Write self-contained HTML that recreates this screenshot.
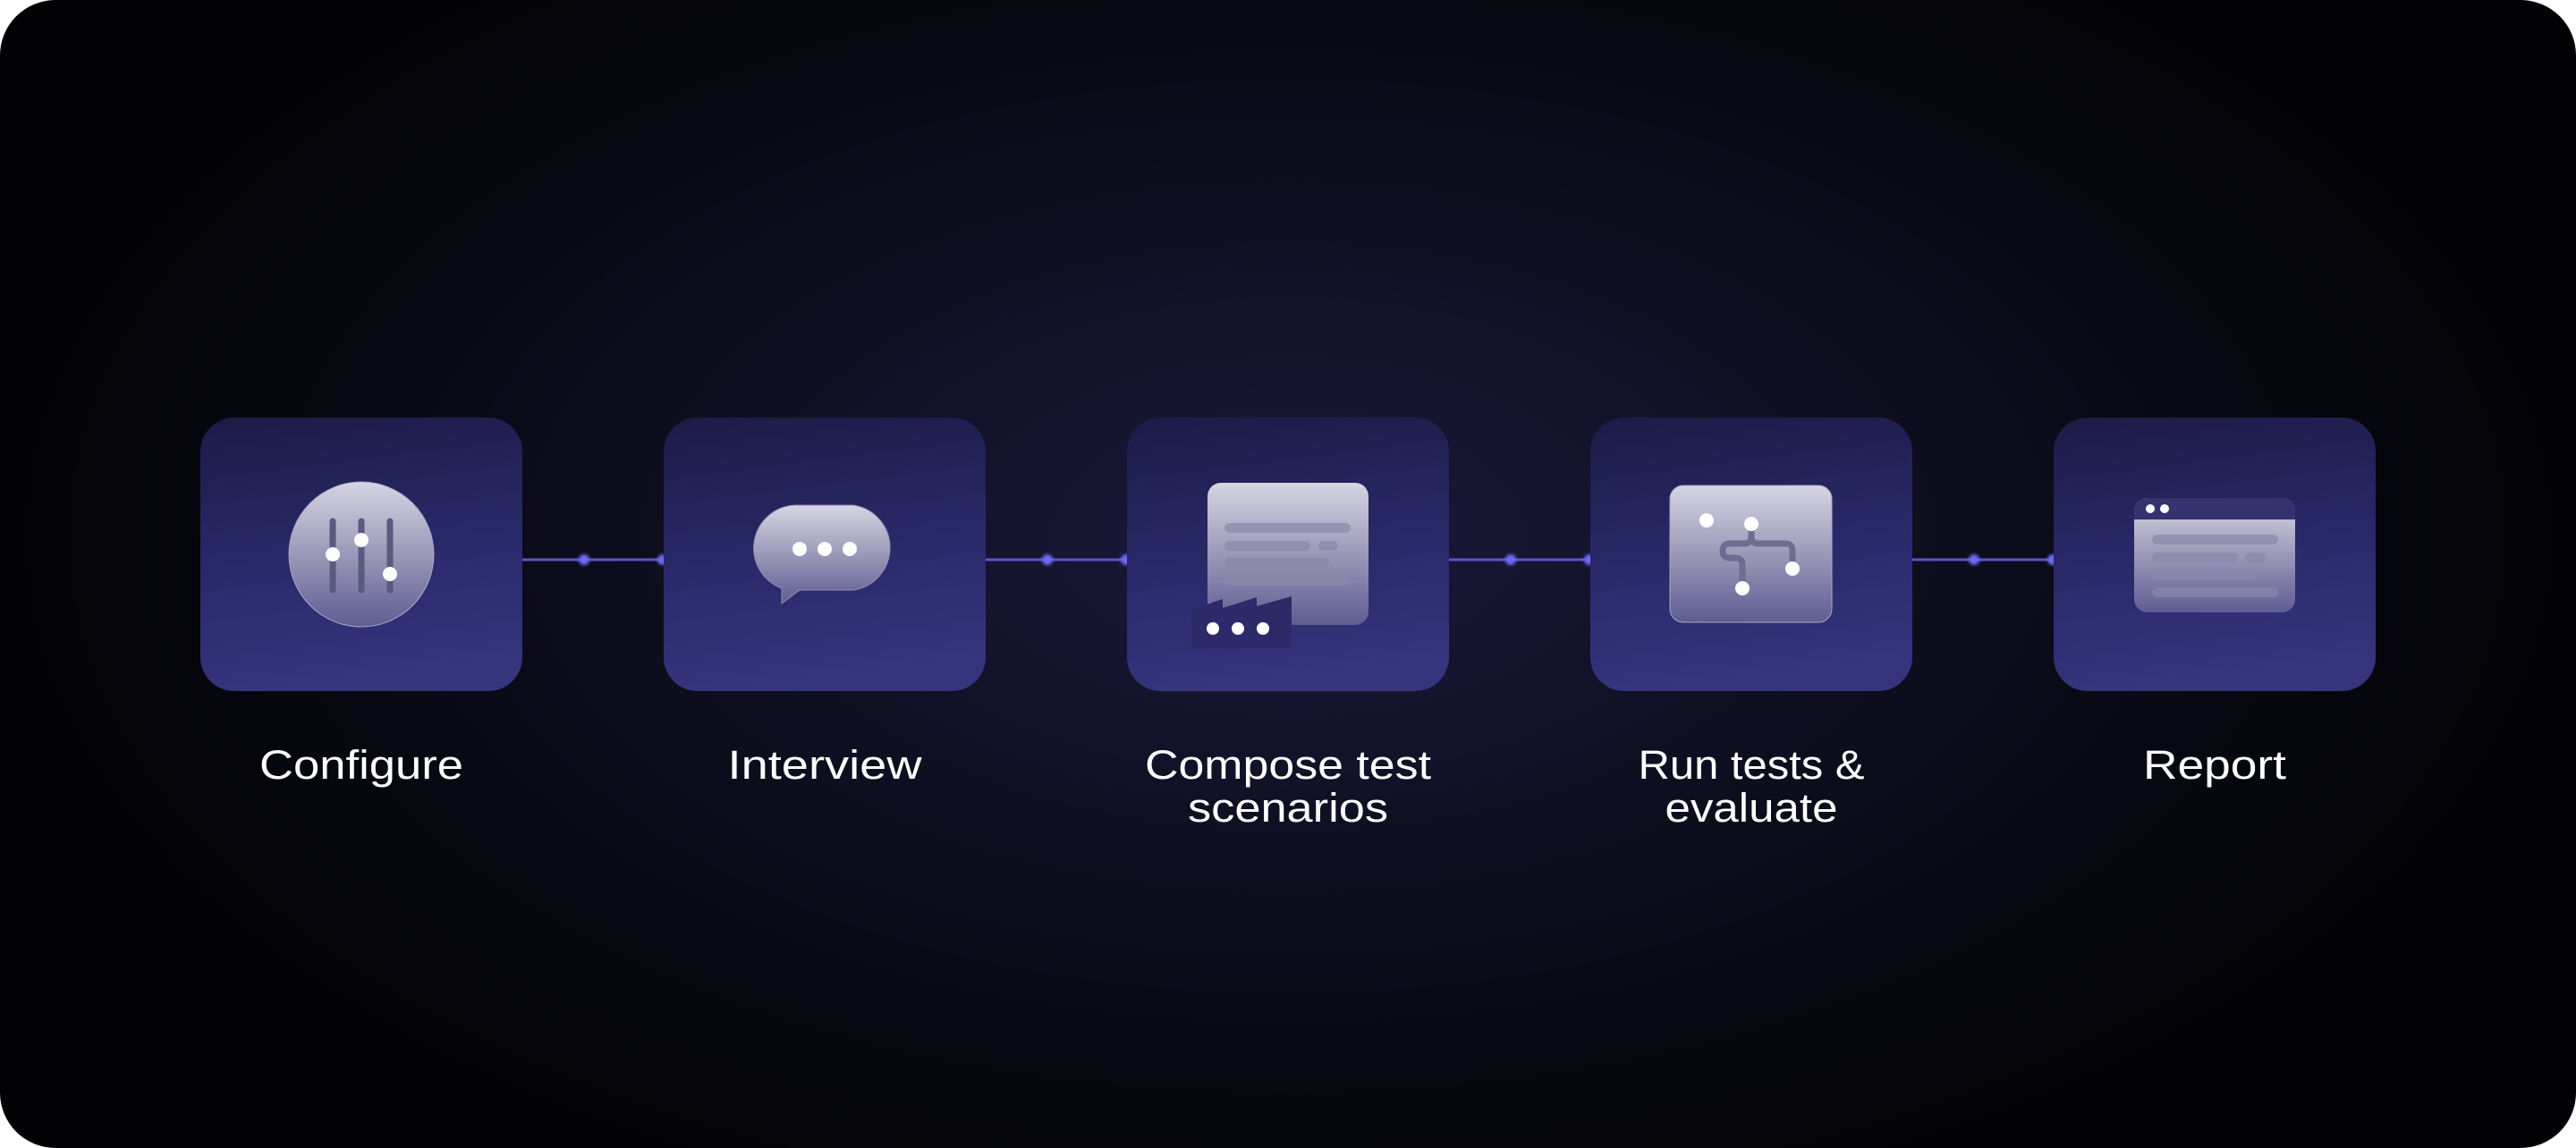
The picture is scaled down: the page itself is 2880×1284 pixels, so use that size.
<!DOCTYPE html>
<html><head><meta charset="utf-8"><style>
html,body{margin:0;padding:0;background:#fff;}
svg{display:block;}
text{font-family:"Liberation Sans",sans-serif;fill:#fff;font-size:45px;text-anchor:middle;}
</style></head><body>
<svg width="2880" height="1284" viewBox="0 0 2880 1284" xmlns="http://www.w3.org/2000/svg">
<defs>
<radialGradient id="bg" cx="1440" cy="600" r="1500" gradientUnits="userSpaceOnUse" gradientTransform="translate(1440 600) scale(1 0.55) translate(-1440 -600)">
<stop offset="0" stop-color="#1a1a3c"/><stop offset="0.45" stop-color="#0e0e20"/><stop offset="1" stop-color="#020204"/>
</radialGradient>
<linearGradient id="box" x1="0" y1="0" x2="0.15" y2="1">
<stop offset="0" stop-color="#1c1b47"/><stop offset="0.6" stop-color="#2a2a6c"/><stop offset="1" stop-color="#35347c"/>
</linearGradient>
<linearGradient id="ic" x1="0" y1="0" x2="0" y2="1">
<stop offset="0" stop-color="#d6d5e3"/><stop offset="0.5" stop-color="#9b99b8"/><stop offset="1" stop-color="#5f5c93"/>
</linearGradient>
<filter id="glow" x="-2" y="-2" width="5" height="5"><feGaussianBlur stdDeviation="1.5"/></filter>
</defs>
<rect x="0" y="0" width="2880" height="1284" rx="62" fill="url(#bg)"/>

<g stroke="#5856c8" stroke-width="3">
<line x1="584" y1="626" x2="742" y2="626"/>
<line x1="1102" y1="626" x2="1260" y2="626"/>
<line x1="1620" y1="626" x2="1778" y2="626"/>
<line x1="2138" y1="626" x2="2296" y2="626"/>
</g>
<g fill="#6b6af5" filter="url(#glow)">
<circle cx="653" cy="626" r="6"/><circle cx="741" cy="626" r="6"/>
<circle cx="1171" cy="626" r="6"/><circle cx="1259" cy="626" r="6"/>
<circle cx="1689" cy="626" r="6"/><circle cx="1777" cy="626" r="6"/>
<circle cx="2207" cy="626" r="6"/><circle cx="2295" cy="626" r="6"/>
</g>

<rect x="224" y="467" width="360" height="306" rx="38" fill="url(#box)"/>
<rect x="742" y="467" width="360" height="306" rx="38" fill="url(#box)"/>
<rect x="1260" y="467" width="360" height="306" rx="38" fill="url(#box)"/>
<rect x="1778" y="467" width="360" height="306" rx="38" fill="url(#box)"/>
<rect x="2296" y="467" width="360" height="306" rx="38" fill="url(#box)"/>

<circle cx="404" cy="620" r="81" fill="url(#ic)" stroke="#a9a8c8" stroke-width="1"/>
<g stroke="#5a5980" stroke-width="7" stroke-linecap="round">
<line x1="372" y1="583" x2="372" y2="660"/><line x1="404" y1="583" x2="404" y2="660"/><line x1="436" y1="583" x2="436" y2="660"/>
</g>
<g fill="#fff"><circle cx="372" cy="620" r="8"/><circle cx="404" cy="604" r="8"/><circle cx="436" cy="642" r="8"/></g>

<path d="M889 565 H954 A48 48 0 0 1 954 660 H894 L874 675 V658 A48 48 0 0 1 889 565 Z" fill="url(#ic)" stroke="#8f8db0" stroke-width="1"/>
<g fill="#fff"><circle cx="894" cy="614" r="8"/><circle cx="922" cy="614" r="8"/><circle cx="950" cy="614" r="8"/></g>

<rect x="1350" y="540" width="180" height="159" rx="15" fill="url(#ic)"/>
<g fill="#8a88aa" opacity="0.7">
<rect x="1369" y="585" width="141" height="11" rx="5.5"/>
<rect x="1369" y="605" width="96" height="11" rx="5.5"/><rect x="1474" y="605" width="22" height="11" rx="5.5"/>
<rect x="1369" y="624" width="117" height="11" rx="5.5"/>
<rect x="1369" y="644" width="141" height="11" rx="5.5"/>
</g>
<path d="M1337 680 L1367 670 V680 L1405 668 V678 L1444 667 V720 Q1444 725 1439 725 H1337 Q1332 725 1332 720 V685 Q1332 681 1337 680 Z" fill="#2c2a68"/>
<g fill="#fff"><circle cx="1356" cy="703" r="7"/><circle cx="1384" cy="703" r="7"/><circle cx="1412" cy="703" r="7"/></g>

<rect x="1867" y="543" width="181" height="153" rx="15" fill="url(#ic)" stroke="#a9a8c8" stroke-width="1"/>
<path d="M1958 586 V600 Q1958 608 1950 608 H1934 Q1926 608 1926 616 Q1926 624 1934 624 H1940 Q1948 624 1948 632 V658 M1958 600 Q1958 608 1966 608 H1996 Q2004 608 2004 616 V636" fill="none" stroke="#6e6c92" stroke-width="7" stroke-linecap="round"/>
<g fill="#fff"><circle cx="1908" cy="582" r="8"/><circle cx="1958" cy="586" r="8"/><circle cx="2004" cy="636" r="8"/><circle cx="1948" cy="658" r="8"/></g>

<clipPath id="wc"><rect x="2386" y="557" width="180" height="128" rx="15"/></clipPath>
<g clip-path="url(#wc)">
<rect x="2386" y="557" width="180" height="128" fill="url(#ic)"/>
<rect x="2386" y="557" width="180" height="24" fill="#34336f"/>
</g>
<g fill="#fff"><circle cx="2404" cy="569" r="5"/><circle cx="2420" cy="569" r="5"/></g>
<g fill="#8a88aa" opacity="0.7">
<rect x="2406" y="598" width="141" height="11" rx="5.5"/>
<rect x="2406" y="618" width="96" height="11" rx="5.5"/><rect x="2510" y="618" width="23" height="11" rx="5.5"/>
<rect x="2406" y="638" width="117" height="11" rx="5.5"/>
<rect x="2406" y="657" width="141" height="11" rx="5.5"/>
</g>

<text x="404" y="871" textLength="228" lengthAdjust="spacingAndGlyphs">Configure</text>
<text x="922" y="871" textLength="217" lengthAdjust="spacingAndGlyphs">Interview</text>
<text x="1440" y="871" textLength="320" lengthAdjust="spacingAndGlyphs">Compose test</text>
<text x="1440" y="919" textLength="224" lengthAdjust="spacingAndGlyphs">scenarios</text>
<text x="1958" y="871" textLength="253" lengthAdjust="spacingAndGlyphs">Run tests &amp;</text>
<text x="1958" y="919" textLength="193" lengthAdjust="spacingAndGlyphs">evaluate</text>
<text x="2476" y="871" textLength="160" lengthAdjust="spacingAndGlyphs">Report</text>
</svg>
</body></html>
